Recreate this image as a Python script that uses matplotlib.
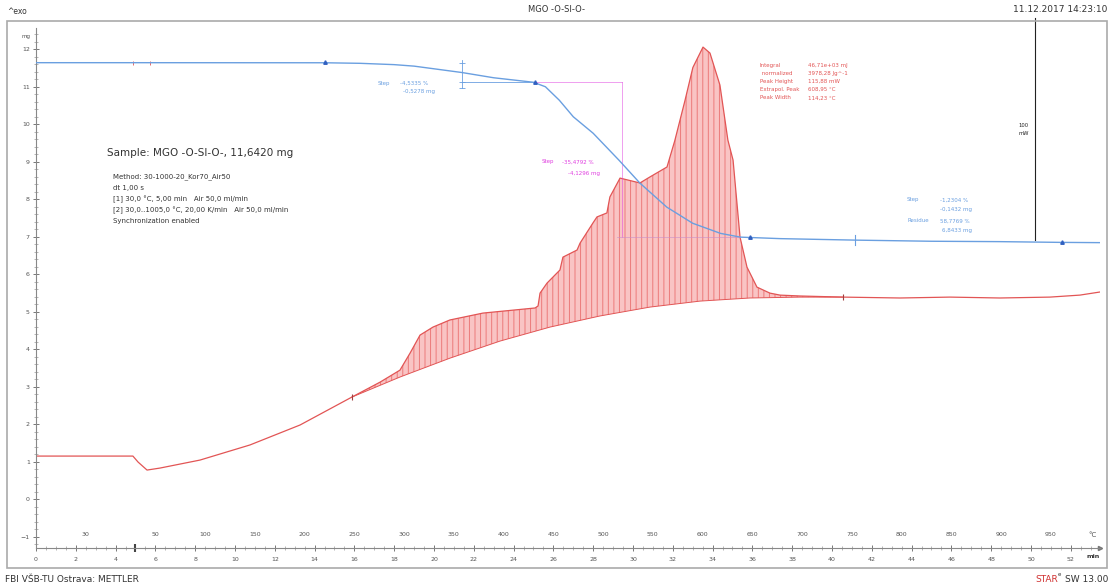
import numpy as np
import matplotlib
matplotlib.use("Agg")
import matplotlib.pyplot as plt
from matplotlib.patches import Rectangle

plt.rcParams['font.family'] = ['DejaVu Sans']
plt.rcParams['hatch.linewidth'] = 0.7

W, H = 1115, 586

# TGA curve (time in min, mass in mg)
tga_t = [0, 5.0, 10.0, 14.5, 16.3, 18.0, 19.0, 21.4, 23.0, 25.0, 25.6, 26.3, 27.0,
         28.0, 29.3, 30.35, 31.7, 33.0, 34.4, 35.4, 37.4, 41.2, 45.0, 48.4, 51.5, 53.47]
tga_mg = [11.642, 11.642, 11.641, 11.640, 11.625, 11.59, 11.55, 11.38, 11.24, 11.12, 11.00,
          10.64, 10.20, 9.76, 9.04, 8.43, 7.79, 7.36, 7.09, 6.99, 6.95, 6.91, 6.88, 6.87,
          6.85, 6.843]

# DSC curve (time in min, heat flow in mW, arbitrary offset)
dsc_t = [0, 4.87, 5.13, 5.58, 6.23, 8.24, 10.75, 13.27, 15.88, 17.29, 18.29, 18.8, 19.3,
         19.95, 20.8, 22.46, 25.08, 25.23, 25.33, 25.68, 26.33, 26.48, 27.19, 27.34, 27.99,
         28.19, 28.69, 28.84, 29.35, 30.35, 30.85, 31.71, 32.1, 32.61, 33.01, 33.52, 33.87,
         34.37, 34.77, 35.03, 35.38, 35.73, 36.23, 36.88, 37.39, 38.39, 40.55, 43.42, 45.93,
         48.44, 50.95, 52.46, 53.47]
dsc_mw = [0, 0, -2.7, -6.3, -5.4, -1.8, 5.0, 14.0, 26.6, 33.3, 38.7, 46.4, 54.5,
          58.1, 61.3, 64.4, 66.7, 67.6, 73.4, 77.9, 83.8, 89.6, 92.8, 95.9, 105.0,
          107.7, 109.5, 116.7, 125.2, 123.0, 125.7, 130.2, 142.0, 160.0, 175.0, 184.2, 181.5,
          167.1, 142.3, 133.3, 98.6, 85.1, 76.1, 73.4, 72.5, 72.1, 71.6, 71.2, 71.6,
          71.2, 71.6, 72.5, 73.9]

# DSC integration baseline
base_t = [15.88, 18.29, 20.8, 23.32, 25.83, 28.34, 30.85, 33.37, 35.88, 38.39, 40.55]
base_mw = [26.6, 35.6, 44.1, 51.8, 58.1, 63.1, 67.1, 69.8, 71.2, 71.6, 71.6]

x_ticks = list(range(0, 53, 2))
temp_labels = [30, 50, 100, 150, 200, 250, 300, 350, 400, 450, 500, 550, 600,
               650, 700, 750, 800, 850, 900, 950]

BLUE = '#6a9fe0'
RED = '#e25555'
MAG = '#e040e0'
GRAY = '#555555'


def fp(x, y):
    return x / W, 1 - y / H


fig = plt.figure(figsize=(W / 100, H / 100), dpi=100)
ax = fig.add_axes([36 / W, (H - 548) / H, (1100 - 36) / W, (548 - 28) / H])
ax.set_xlim(0, 53.47)
ax.set_ylim(-1.3, 12.567)

for s in ['top', 'right']:
    ax.spines[s].set_visible(False)
for s in ['left', 'bottom']:
    ax.spines[s].set_color('#888888')
    ax.spines[s].set_linewidth(0.8)

ax.set_yticks(range(-1, 13))
ax.set_yticks(np.arange(-1.2, 12.6, 0.2), minor=True)
ax.set_xticks(x_ticks)
ax.set_xticks(np.arange(0, 53.5, 0.5), minor=True)
ax.tick_params(axis='both', which='major', direction='inout', length=5, width=0.7,
               color='#777777', labelsize=4.5, labelcolor=GRAY, pad=2)
ax.tick_params(axis='both', which='minor', direction='inout', length=3, width=0.5,
               color='#999999')
ax.tick_params(axis='x', pad=4)
ax.plot(1.0, 0, marker='>', color='#777777', ms=3, transform=ax.transAxes, clip_on=False)
ax.plot(5.0, -1.3, marker='|', color='#444444', ms=6, mew=1.5, clip_on=False)

# temperature labels above the time axis
for T in temp_labels:
    tt = 2.5 if T == 30 else 5 + (T - 30) / 20
    ax.text(tt, 13 / 520, str(T), transform=ax.get_xaxis_transform(),
            ha='center', va='center', fontsize=4.5, color=GRAY)
ax.text(53.1, 13 / 520, '°C', transform=ax.get_xaxis_transform(), ha='center',
        va='center', fontsize=5, color=GRAY)
ax.text(53.1, -9 / 520, 'min', transform=ax.get_xaxis_transform(), ha='center',
        va='center', fontsize=4.5, color='#333333', fontweight='bold')
ax.text(-0.3, 12.35, 'mg', ha='right', va='center', fontsize=4, color=GRAY)

# TGA
ax.plot(tga_t, tga_mg, color=BLUE, lw=1.0, zorder=4)
ax.plot([21.4, 25.08], [11.12, 11.12], color=BLUE, lw=0.6)
ax.plot([21.4, 21.4], [10.96, 11.72], color=BLUE, lw=0.6)
ax.plot([21.4] * 3, [11.12, 11.642, 10.96], ls='none', marker='_', ms=4, color=BLUE, mew=0.6)
ax.plot([25.08, 29.45], [11.12, 11.12], color=MAG, lw=0.5, alpha=0.7)
ax.plot([29.45, 29.45], [11.12, 6.99], color=MAG, lw=0.5, alpha=0.7)
ax.plot([29.2, 35.4], [6.99, 6.99], color='#c88ec8', lw=0.5, alpha=0.8)
ax.plot([4.87, 5.73], [11.642, 11.642], ls='none', marker='|', ms=3, color=RED, mew=0.6)
ax.plot([14.52, 25.08, 35.88, 51.56], [11.66, 11.12, 7.0, 6.85], ls='none', marker='^',
        ms=2.5, color='#3060c0', zorder=5)
ax.plot([41.16, 41.16], [6.78, 7.05], color=BLUE, lw=0.8)

# texts
fig.text(*fp(378, 83), 'Step', fontsize=4, color=BLUE, va='center')
fig.text(*fp(400, 83), '-4,5335 %', fontsize=4, color=BLUE, va='center')
fig.text(*fp(403, 92), '-0,5278 mg', fontsize=4, color=BLUE, va='center')
fig.text(*fp(542, 162), 'Step', fontsize=4, color=MAG, va='center')
fig.text(*fp(562, 162), '-35,4792 %', fontsize=4, color=MAG, va='center')
fig.text(*fp(568, 173), '-4,1296 mg', fontsize=4, color=MAG, va='center')

red_names = ['Integral', ' normalized', 'Peak Height', 'Extrapol. Peak', 'Peak Width']
red_vals = ['46,71e+03 mJ', '3978,28 Jg^-1', '115,88 mW', '608,95 °C', '114,23 °C']
for i, (a, b) in enumerate(zip(red_names, red_vals)):
    fig.text(*fp(760, 65 + i * 8.2), a, fontsize=4, color=RED, va='center')
    fig.text(*fp(808, 65 + i * 8.2), b, fontsize=4, color=RED, va='center')

fig.text(*fp(907, 200), 'Step', fontsize=4, color=BLUE, va='center')
fig.text(*fp(940, 200), '-1,2304 %', fontsize=4, color=BLUE, va='center')
fig.text(*fp(940, 209), '-0,1432 mg', fontsize=4, color=BLUE, va='center')
fig.text(*fp(907, 221), 'Residue', fontsize=4, color=BLUE, va='center')
fig.text(*fp(940, 221), '58,7769 %', fontsize=4, color=BLUE, va='center')
fig.text(*fp(942, 230), '6,8433 mg', fontsize=4, color=BLUE, va='center')

fig.text(*fp(107, 153), 'Sample: MGO -O-SI-O-, 11,6420 mg', fontsize=7.5, color='#333333',
         va='center')
method = ['Method: 30-1000-20_Kor70_Air50', 'dt 1,00 s',
          '[1] 30,0 °C, 5,00 min   Air 50,0 ml/min',
          '[2] 30,0..1005,0 °C, 20,00 K/min   Air 50,0 ml/min',
          'Synchronization enabled']
for i, line in enumerate(method):
    fig.text(*fp(113, 177 + i * 11), line, fontsize=5, color='#333333', va='center')

# DSC on its own (hidden) scale, drawn beneath the TGA axes
ax2 = ax.twinx()
ax2.set_ylim(-41.4, 192.8)
ax2.axis('off')
ax.set_zorder(ax2.get_zorder() + 1)
ax.patch.set_visible(False)
ax2.plot(dsc_t, dsc_mw, color=RED, lw=0.9, zorder=3)
i0 = dsc_t.index(15.88)
i1 = dsc_t.index(40.55)
poly_t = dsc_t[i0:i1 + 1] + base_t[::-1]
poly_y = dsc_mw[i0:i1 + 1] + base_mw[::-1]
ax2.fill(poly_t, poly_y, facecolor='#f9c4c4', edgecolor='#ec7a7a', hatch='|||', lw=0,
         zorder=2)
ax2.plot(base_t, base_mw, color=RED, lw=0.7, zorder=3)
ax2.plot([15.88, 40.55], [26.6, 71.6], ls='none', marker='|', ms=5, mew=0.8, color='#a04040',
         zorder=4)
ax2.plot([50.2, 50.2], [97.3, 197.3], color='#222222', lw=0.8, clip_on=False)
ax2.text(49.9, 147, '100\nmW', ha='right', va='center', fontsize=3.8, color='#222222',
         linespacing=1.6)

# page frame and header/footer
fig.add_artist(Rectangle(fp(7, 568), (1107 - 7) / W, (568 - 21) / H, fill=False,
                         edgecolor='#aaaaaa', lw=1.2, transform=fig.transFigure))
fig.text(*fp(7, 11), '^exo', fontsize=5.5, color='#333333', va='center')
fig.text(*fp(557, 10), 'MGO -O-SI-O-', fontsize=6, color='#333333', va='center', ha='center')
fig.text(*fp(1107, 10), '11.12.2017 14:23:10', fontsize=6.5, color='#333333', va='center',
         ha='right')
fig.text(*fp(5, 579), 'FBI VŠB-TU Ostrava: METTLER', fontsize=6.5, color='#333333',
         va='center')
fig.text(*fp(1108, 579), 'SW 13.00', fontsize=6.5, color='#333333', va='center', ha='right')
fig.text(*fp(1058, 579), 'STAR', fontsize=6.5, color='#d03030', va='center', ha='right')
fig.text(*fp(1058, 575), 'e', fontsize=4, color='#333333', va='center')

fig.savefig('out.png', dpi=100)
